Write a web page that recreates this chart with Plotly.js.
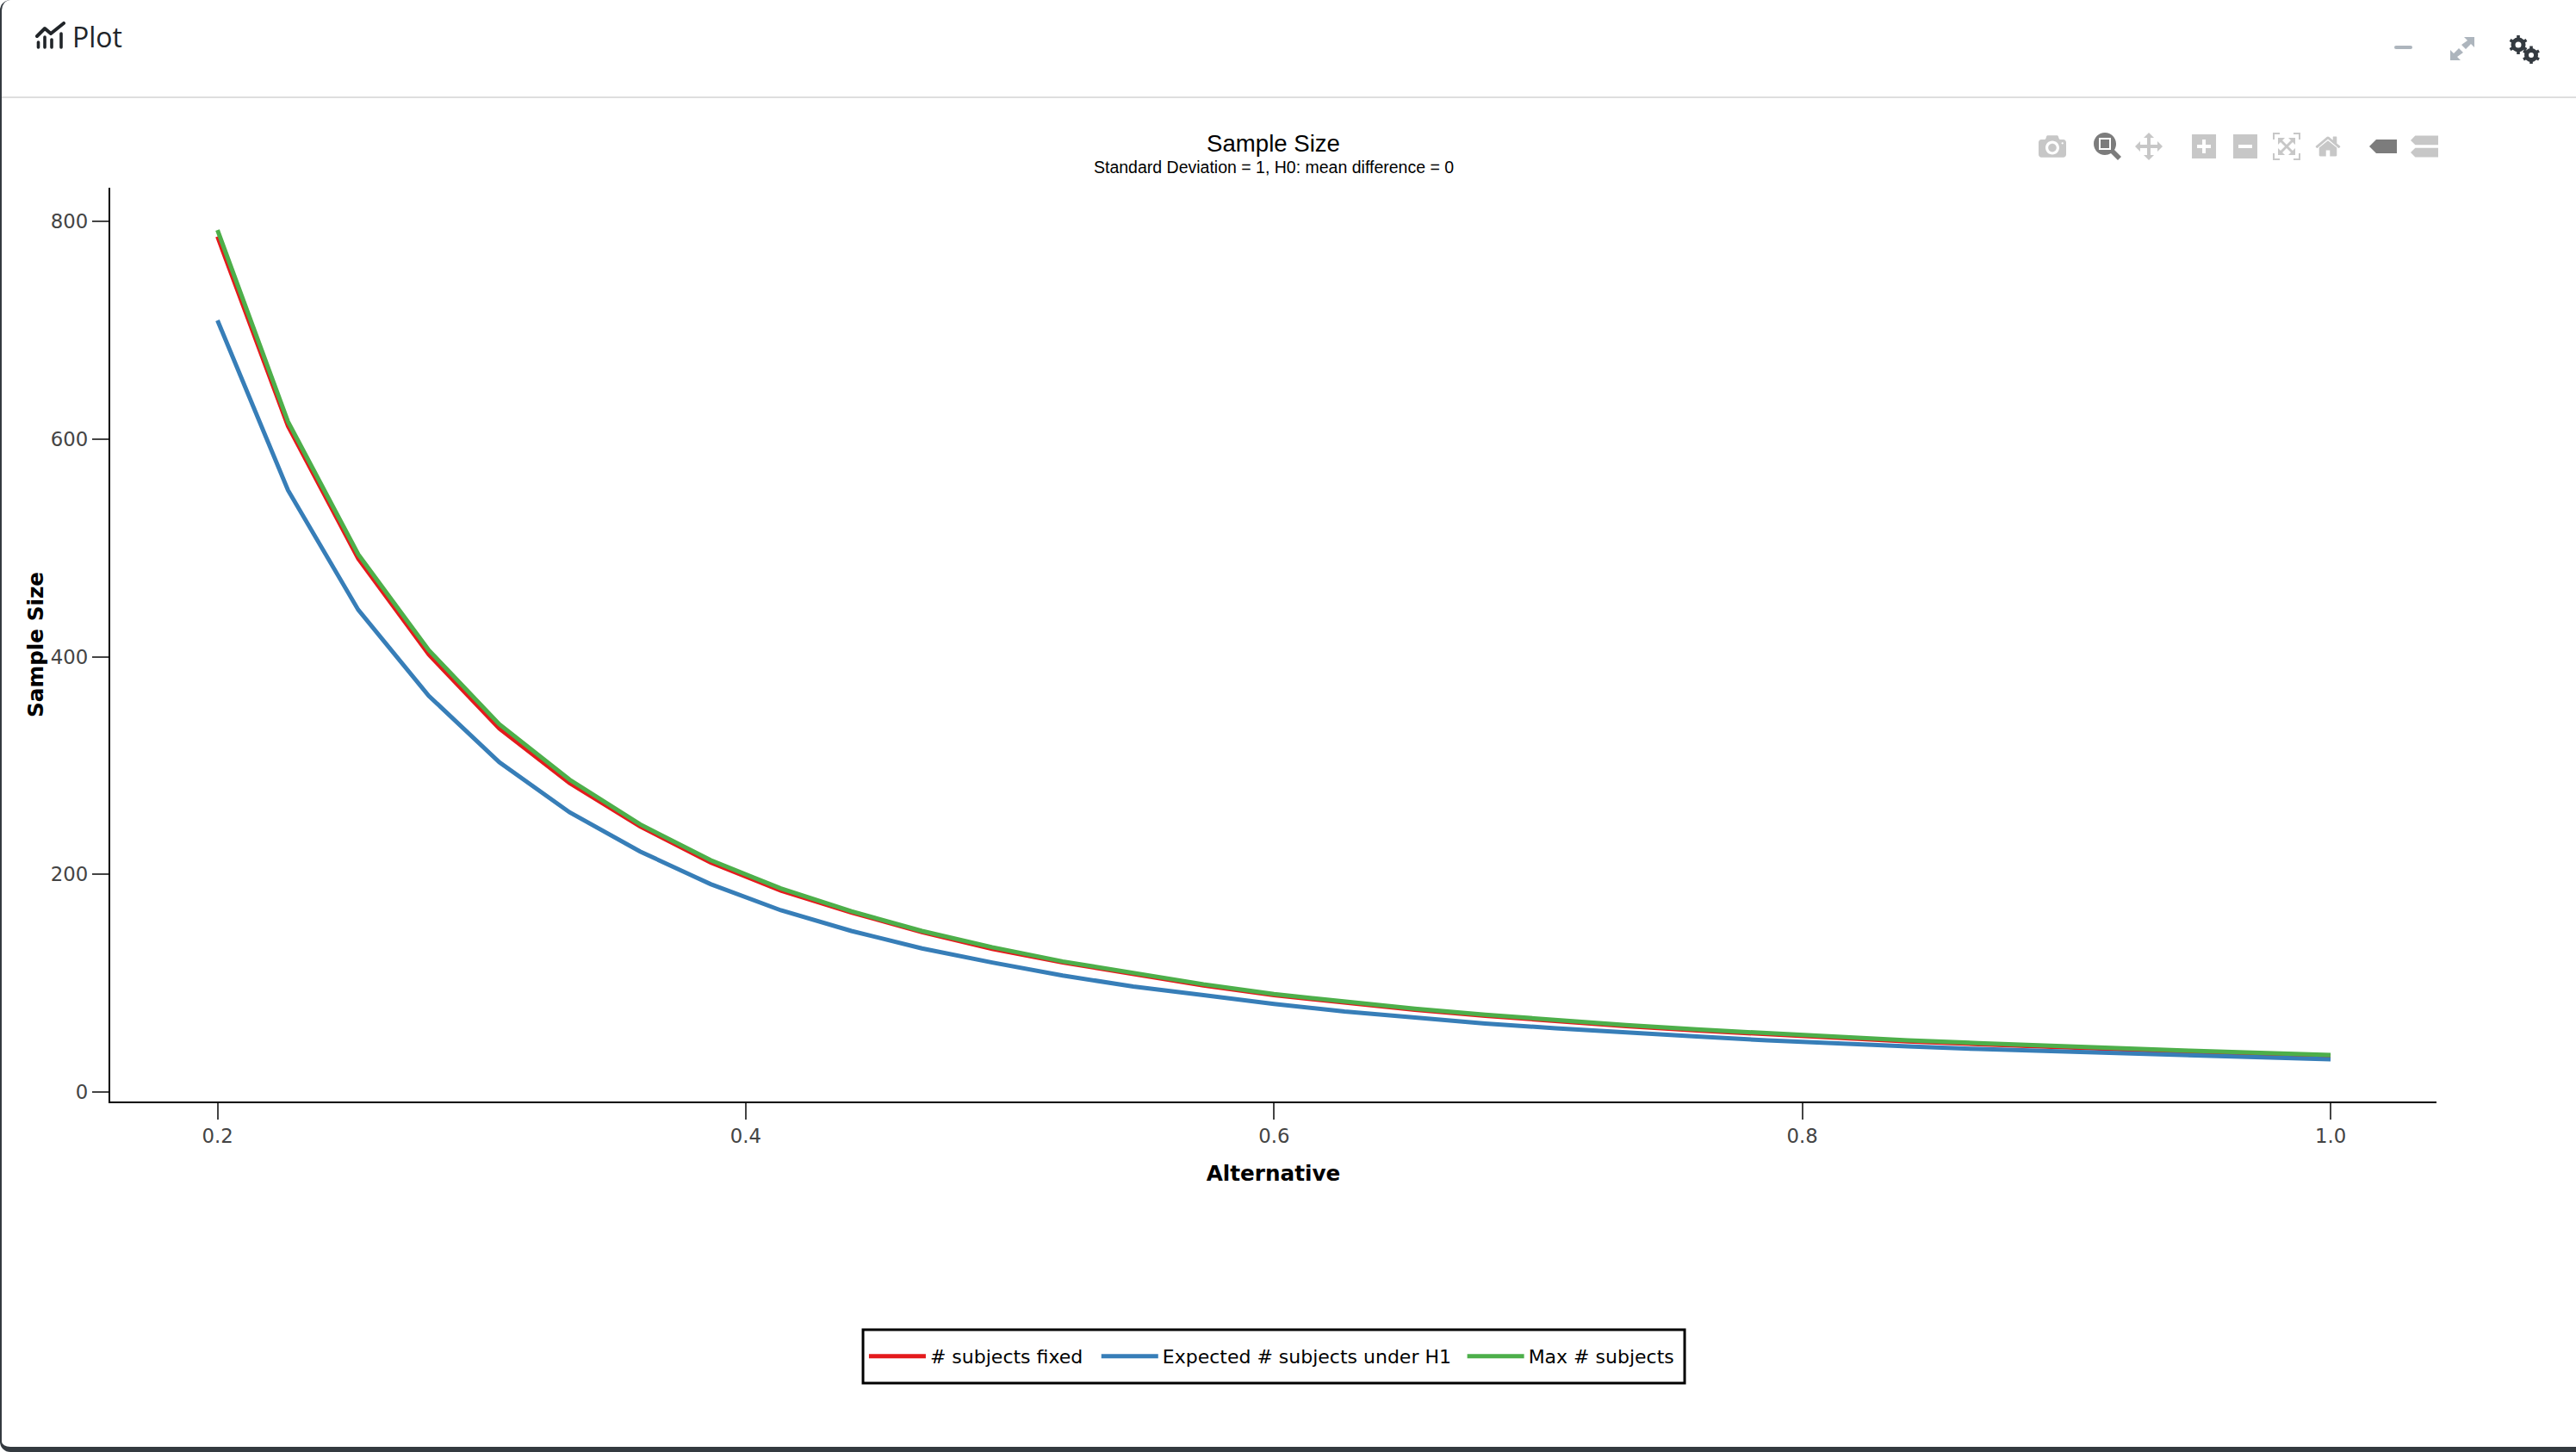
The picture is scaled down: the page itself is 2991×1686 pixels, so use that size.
<!DOCTYPE html>
<html>
<head>
<meta charset="utf-8">
<script src="https://cdn.plot.ly/plotly-3.0.1.min.js"></script>
<style>
html,body{margin:0;padding:0;background:#fff;width:2991px;height:1686px;overflow:hidden}
#plot{position:absolute;left:0;top:0;width:2991px;height:1686px}
#chrome-frame{position:absolute;left:0;top:0;width:2991px;height:1686px;box-sizing:border-box;border-left:2px solid #343a40;border-bottom:6px solid #343a40;border-radius:12px 0 0 12px;pointer-events:none}
#chrome-hr{position:absolute;left:2px;right:0;top:112px;height:2px;background:#dedede}
#chrome-title{position:absolute;left:84px;top:21px;font:32px/44px "Open Sans",sans-serif;color:#212529}
.ico{position:absolute}
.js-plotly-plot .plotly .modebar{top:146px!important;right:152px!important;left:auto!important}
.js-plotly-plot .plotly .modebar-group{padding-left:16px!important;background:transparent!important}
.js-plotly-plot .plotly .modebar-btn{font-size:32px!important;padding:6px 8px!important;height:44px!important;box-sizing:border-box}
.js-plotly-plot .plotly .modebar-btn svg{top:0!important}
</style>
</head>
<body>
<div id="plot"></div>
<div id="chrome-frame"></div>
<div id="chrome-hr"></div>
<svg class="ico" style="left:41px;top:25px" width="36" height="32" viewBox="0 0 36 32">
  <path d="M2 17 L11 8 L18 14 L33 2" fill="none" stroke="#212529" stroke-width="4" stroke-linecap="round" stroke-linejoin="round"/>
  <g stroke="#212529" stroke-width="3.6" stroke-linecap="round">
    <line x1="3.5" y1="24" x2="3.5" y2="30"/><line x1="11" y1="18" x2="11" y2="30"/>
    <line x1="19" y1="21" x2="19" y2="30"/><line x1="30" y1="14" x2="30" y2="30"/>
  </g>
</svg>
<div id="chrome-title">Plot</div>
<svg class="ico" style="left:2778px;top:50px" width="26" height="10"><rect x="2" y="3" width="21" height="4" rx="2" fill="#adb5bd"/></svg>
<svg class="ico" style="left:2843px;top:40px" width="32" height="32" viewBox="0 0 32 32">
  <path d="M18 3 H30 V15 L26 11 L20 17 L15 12 L22 7 Z M2 30 V18 L6 22 L12 16 L17 21 L10 26 L14 30 Z" fill="#adb5bd"/>
</svg>
<svg class="ico" style="left:2913px;top:40px" width="38" height="34" viewBox="0 0 38 34">
  <g fill="none" stroke="#343a40">
    <circle cx="11" cy="12" r="6" stroke-width="5"/>
    <circle cx="26" cy="24" r="5.5" stroke-width="5"/>
    <g stroke-width="3.6">
      <path d="M11 1v4M11 19v4M1.500 6.500l3.500 2M17 15.500l3.500 2M1.500 17.500l3.500-2M17 8.500l3.500-2"/>
      <path d="M26 13.500v3.500M26 31v3M17 19l3 1.700M32 27.300l3 1.700M17 29l3-1.700M32 20.700l3-1.700"/>
    </g>
  </g>
</svg>
<script>
var alternative = [0.2,0.2267,0.2533,0.28,0.3067,0.3333,0.36,0.3867,0.4133,0.44,0.4667,0.4933,0.52,0.5467,0.5733,0.6,0.6267,0.6533,0.68,0.7067,0.7333,0.76,0.7867,0.8133,0.84,0.8667,0.8933,0.92,0.9467,0.9733,1.0];
var subjectsFixed = [786,612,490,402,334,284,244,211,185,165,147,131.5,119,108,98,89,82,75.5,70,65,60.5,56.5,53,49.5,46.5,44,41.5,39,37,35,33];
var expectedH1 = [709,553,443,364,303,257,221,191,167,148,132,119,107,97,89,81,74,68.5,63,58.5,54.5,51,47.5,44.5,42,39.5,37.5,35.5,33.5,32,30];
var maxSubjects = [792,616,494,406,338,287,246,213,187,166,148,133,120,109,99,90,83,76.5,71,66,61.5,57.5,54,50.5,47.5,45,42.5,40,38,36,34];
var seriesNames = ["# subjects fixed","Expected # subjects under H1","Max # subjects"];
var seriesColors = ["#e41a1c","#377eb8","#4daf4a"];
var seriesValues = [subjectsFixed, expectedH1, maxSubjects];
var legendIds = ["legend","legend2","legend3"];
var legendLeft = [0.3243,0.4242,0.5815];
var xTicks = [0.2,0.4,0.6,0.8,1.0];
var yTicks = [0,200,400,600,800];
var tickFont = {family:'"DejaVu Sans",sans-serif', size:22.8, color:'#444'};
var titleFontBold = {family:'"DejaVu Sans",sans-serif', size:24.7, color:'#000', weight:700};

var traces = seriesValues.map(function(v,i){
  return {x:alternative, y:v, name:seriesNames[i], type:'scatter', mode:'lines', legend:legendIds[i], showlegend:true,
          line:{color:seriesColors[i], width:5}};
});

var layout = {
  width:2991, height:1686,
  autosize:false,
  showlegend:true,
  paper_bgcolor:'#fff', plot_bgcolor:'#fff',
  margin:{l:128,r:162,t:218,b:407,pad:0},
  hovermode:'closest',
  dragmode:'zoom',
  title:{text:'Sample Size',
         font:{family:'"Liberation Sans",Arial,sans-serif',size:27.6,color:'#000'},
         x:0.5, xanchor:'center', xref:'paper', y:0.9015, yanchor:'middle', yref:'container'},
  annotations:[{text:'Standard Deviation = 1, H0: mean difference = 0', xref:'paper', yref:'paper', x:0.5, y:1.0225,
         xanchor:'center', yanchor:'middle', showarrow:false,
         font:{family:'"Liberation Sans",Arial,sans-serif',size:19.5,color:'#000'}}],
  shapes:[{type:'rect', xref:'paper', yref:'paper', x0:0.3236, x1:0.6768, y0:-0.2498, y1:-0.3082,
           line:{color:'#000', width:3}, fillcolor:'rgba(0,0,0,0)', layer:'above'}],
  xaxis:{range:[0.1594,1.0401], tickvals:xTicks, ticktext:['0.2','0.4','0.6','0.8','1.0'],
         showgrid:false, zeroline:false, showline:true, linecolor:'#000', linewidth:2.2,
         ticks:'outside', ticklen:19, tickwidth:1.9, tickcolor:'#444', tickfont:tickFont,
         title:{text:'Alternative', font:titleFontBold, standoff:22.5}},
  yaxis:{range:[-8.7,830.9], tickvals:yTicks, showgrid:false, zeroline:false, showline:true, linecolor:'#000', linewidth:2.2,
         ticks:'outside', ticklen:19, tickwidth:1.9, tickcolor:'#444', tickfont:tickFont,
         title:{text:'Sample Size', font:titleFontBold, standoff:1}}
};
legendIds.forEach(function(id,i){
  layout[id] = {orientation:'h', x:legendLeft[i], xanchor:'left', y:-0.279, yanchor:'middle', xref:'paper', yref:'paper',
    bgcolor:'rgba(0,0,0,0)', borderwidth:0, itemwidth:66, visible:true,
    font:{family:'"DejaVu Sans",sans-serif', size:22, color:'#000'}};
});
Plotly.newPlot('plot', traces, layout, {
  displayModeBar:true, displaylogo:false,
  modeBarButtons:[['toImage'],['zoom2d','pan2d'],['zoomIn2d','zoomOut2d','autoScale2d','resetScale2d'],['hoverClosestCartesian','hoverCompareCartesian']]
});
</script>
</body>
</html>
